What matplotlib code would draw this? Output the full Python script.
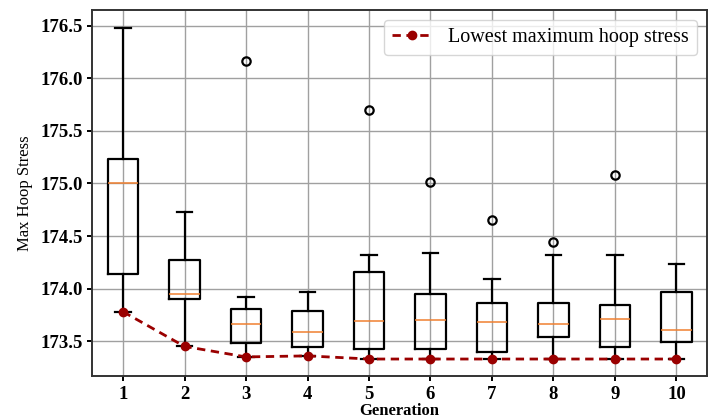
import matplotlib.pyplot as plt

plt.rcParams['font.family'] = ['Liberation Serif', 'DejaVu Serif']

generations = [1, 2, 3, 4, 5, 6, 7, 8, 9, 10]
q1 = [174.14, 173.90, 173.48, 173.44, 173.43, 173.43, 173.40, 173.54, 173.44, 173.49]
median = [175.00, 173.95, 173.66, 173.59, 173.69, 173.70, 173.68, 173.66, 173.71, 173.61]
q3 = [175.23, 174.27, 173.81, 173.79, 174.16, 173.95, 173.86, 173.86, 173.84, 173.97]
whisker_hi = [176.48, 174.73, 173.92, 173.97, 174.32, 174.34, 174.09, 174.32, 174.32, 174.23]
lowest = [173.78, 173.45, 173.35, 173.36, 173.33, 173.33, 173.33, 173.33, 173.33, 173.33]
outliers = [[], [], [176.17], [], [175.70], [175.01], [174.65], [174.44], [175.08], []]

stats = []
for i in range(len(generations)):
    stats.append({'q1': q1[i], 'med': median[i], 'q3': q3[i],
                  'whislo': lowest[i], 'whishi': whisker_hi[i],
                  'fliers': outliers[i]})

fig = plt.figure(figsize=(7.1, 4.19), dpi=100)
ax = fig.add_axes([0.13, 0.103, 0.866, 0.873])

# boxes drawn from precomputed stats
ax.bxp(stats, positions=generations, widths=0.5,
       boxprops=dict(color='black', linewidth=1.6),
       whiskerprops=dict(color='black', linewidth=1.6),
       capprops=dict(color='black', linewidth=1.6),
       medianprops=dict(color='#f08030', linewidth=1.1),
       flierprops=dict(marker='o', markerfacecolor='none',
                       markeredgecolor='black', markersize=6,
                       markeredgewidth=1.6))

ax.plot(generations, lowest, '--o', color='#9a0000', linewidth=2.0,
        markersize=6, dashes=(3, 2), label='Lowest maximum hoop stress')

ax.set_xlim(0.5, 10.5)
ax.set_ylim(173.17, 176.65)
ax.set_xticks(generations)
ax.set_xticklabels([str(g) for g in generations])
ax.set_yticks([173.5, 174.0, 174.5, 175.0, 175.5, 176.0, 176.5])
ax.tick_params(labelsize=13.5, width=1.4)
for lbl in ax.get_xticklabels() + ax.get_yticklabels():
    lbl.set_fontweight('bold')
for sp in ax.spines.values():
    sp.set_linewidth(1.4)
    sp.set_color('#333333')
ax.grid(True, color='#a0a0a0', linewidth=1.0)
ax.set_axisbelow(True)

ax.set_xlabel('Generation', fontsize=12, fontweight='bold', labelpad=0)
ax.set_ylabel('Max Hoop Stress', fontsize=12, labelpad=5)
ax.legend(loc='upper right', fontsize=14.5)

fig.savefig('out.png', dpi=100)
